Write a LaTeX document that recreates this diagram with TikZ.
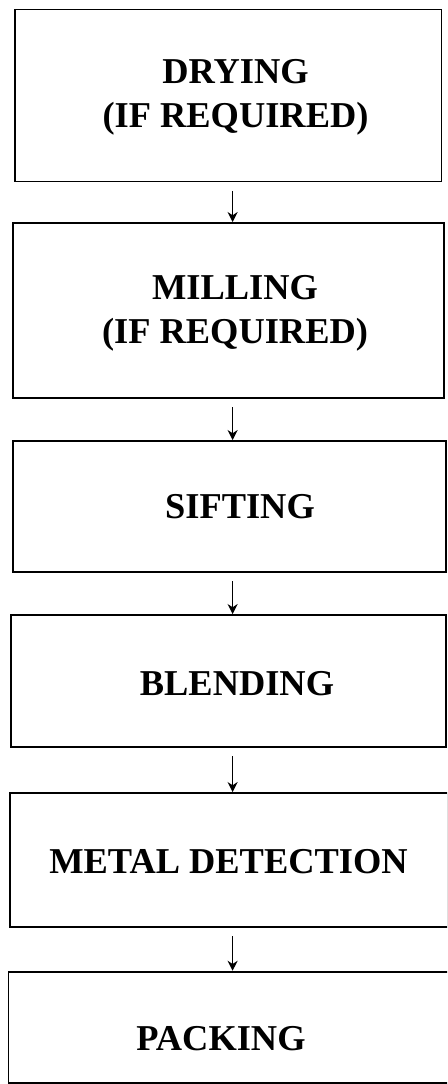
\documentclass[tikz,border=0pt]{standalone}
\usepackage{fontspec}
\setmainfont{Liberation Serif}
\usetikzlibrary{arrows.meta,calc}
\begin{document}
\begin{tikzpicture}[x=1pt,y=-1pt,
  stepbox/.style={draw=black,line width=1.9pt,inner sep=0pt},
  lbl/.style={align=center,inner sep=0pt,font=\bfseries\fontsize{36.4}{44}\selectfont},
  arr/.style={line width=1.7pt,-{Stealth[length=10pt,width=10pt]},shorten <=8.5pt}]
\useasboundingbox (0,0) rectangle (447,1084);
\clip (0,0) rectangle (447,1084);
\fill[white] (0,0) rectangle (447,1084);
\node[stepbox,minimum width=426.8pt,minimum height=172pt] (b1) at (228.1,95.5) {};
\node[stepbox,minimum width=431.3pt,minimum height=174.7pt] (b2) at (228.35,310.35) {};
\node[stepbox,minimum width=433.3pt,minimum height=130.7pt] (b3) at (229.35,506.35) {};
\node[stepbox,minimum width=435pt,minimum height=131.7pt] (b4) at (228.5,680.85) {};
\node[stepbox,minimum width=438pt,minimum height=133.7pt] (b5) at (229,859.85) {};
\node[stepbox,minimum width=443.5pt,minimum height=111.3pt] (b6) at (230.25,1027.35) {};
\node[lbl] (t1) at (235.5,97.5) {DRYING\\(IF REQUIRED)};
\node[lbl] (t2) at (235,313) {MILLING\\(IF REQUIRED)};
\node[lbl] (t3) at (240,507) {SIFTING};
\node[lbl] (t4) at (237,683.5) {BLENDING};
\node[lbl] (t5) at (228.5,861.5) {METAL DETECTION};
\node[lbl] (t6) at (221,1038.5) {PACKING};
\coordinate (ax) at (232.6,0);
\draw[arr] (b1.south -| ax) -- (b2.north -| ax);
\draw[arr] (b2.south -| ax) -- (b3.north -| ax);
\draw[arr] (b3.south -| ax) -- (b4.north -| ax);
\draw[arr] (b4.south -| ax) -- (b5.north -| ax);
\draw[arr] (b5.south -| ax) -- (b6.north -| ax);
\end{tikzpicture}
\end{document}
